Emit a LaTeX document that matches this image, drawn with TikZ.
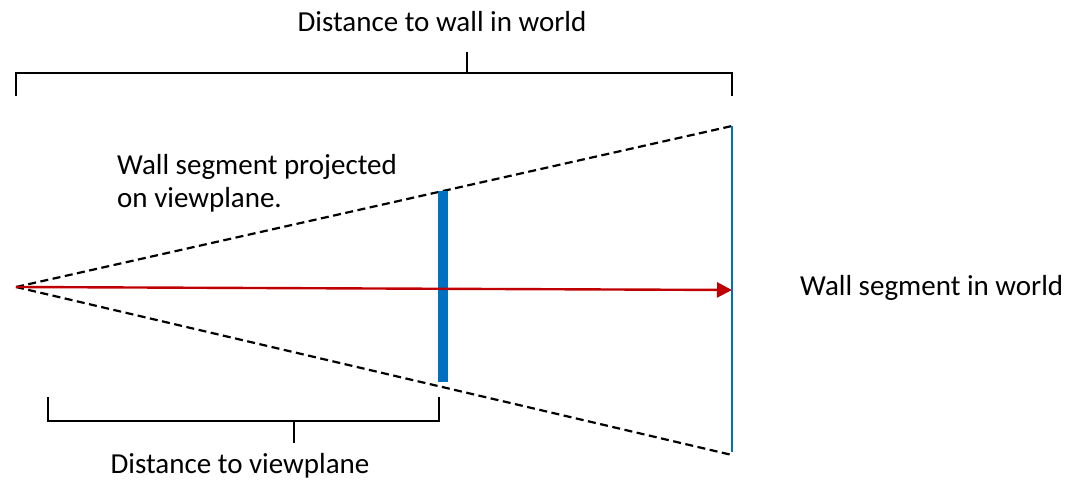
\documentclass[tikz,border=0pt]{standalone}
\usepackage{fontspec}
\setmainfont{Carlito}
\usetikzlibrary{arrows.meta}
\definecolor{wallblue}{RGB}{0,112,192}
\definecolor{rayred}{RGB}{192,0,0}
\tikzset{
  bracket/.style={draw=black, line width=2.4pt},
  frustum/.style={draw=black, dashed, dash pattern=on 8pt off 4.5pt, line width=2.2pt},
  lbl/.style={font=\fontsize{29}{33}\selectfont, inner sep=0pt},
}
\begin{document}
\begin{tikzpicture}[x=1pt,y=-1pt]
\useasboundingbox (0,0) rectangle (1069,481);
% key points
\coordinate (eye) at (16,287);
\coordinate (wt) at (732,126);
\coordinate (wb) at (732,455);
\coordinate (wm) at (732,290);
\coordinate (vt) at (443,191);
\coordinate (vb) at (443,382);
% frustum
\draw[frustum] (eye) -- (wt);
\draw[frustum] (eye) -- (wb);
% wall in world
\draw[wallblue, line width=2.8pt] (wt) -- (732,452);
% projected segment
\draw[wallblue, line width=10pt] (vt) -- (vb);
% ray
\draw[rayred, line width=2.4pt, -{Triangle[length=15pt,width=15pt]}] (eye) -- (wm);
% top bracket
\coordinate (tbl) at (16,96);
\coordinate (tbr) at (732,96);
\coordinate (tbc) at (467,52);
\draw[bracket] (tbl) -- (16,73) -- (732,73) -- (tbr);
\draw[bracket] (467,73) -- (tbc);
\node[lbl] (twall) at (442,22) {Distance to wall in world};
% bottom bracket
\coordinate (bbl) at (48,397);
\coordinate (bbr) at (439,397);
\coordinate (bbc) at (294,443);
\draw[bracket] (bbl) -- (48,421) -- (439,421) -- (bbr);
\draw[bracket] (294,421) -- (bbc);
\node[lbl] (tview) at (240,466) {Distance to viewplane};
% labels
\node[lbl, anchor=west, align=left] (tproj) at (117,183) {Wall segment projected\\on viewplane.};
\node[lbl, anchor=west] (tworld) at (800,288) {Wall segment in world};
\end{tikzpicture}
\end{document}
